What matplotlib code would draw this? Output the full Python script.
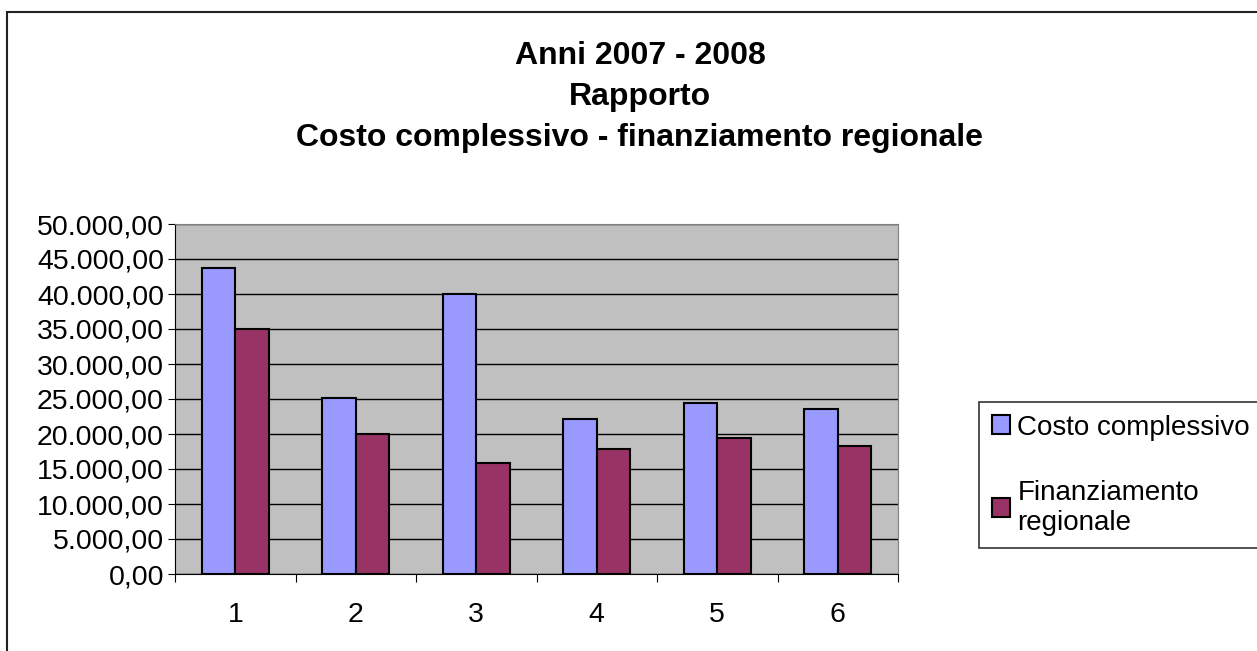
import matplotlib.pyplot as plt
import numpy as np
from matplotlib.ticker import FuncFormatter, MultipleLocator
from matplotlib.patches import Rectangle

plt.rcParams['font.family'] = ['Liberation Sans', 'DejaVu Sans']

# data
categories = ['1', '2', '3', '4', '5', '6']
costo = [43700, 25200, 40000, 22200, 24400, 23600]
finanziamento = [35000, 20000, 15900, 17800, 19400, 18300]
title_lines = ['Anni 2007 - 2008', 'Rapporto', 'Costo complessivo - finanziamento regionale']

fig = plt.figure(figsize=(12.57, 6.51), dpi=100)
# outer chart border (cropped on right and bottom like the original)
fig.patches.append(Rectangle((7 / 1257, -0.01), 1.1, 1 - 12 / 651 + 0.01,
                             transform=fig.transFigure, fill=False,
                             edgecolor='#222222', linewidth=1.5))

ax = fig.add_axes([175 / 1257, 1 - 574 / 651, (898 - 175) / 1257, (574 - 224) / 651])
ax.set_facecolor('#c0c0c0')

x = np.arange(1, len(categories) + 1)
w = 0.28
ax.bar(x - w / 2, costo, w, color='#9999ff', edgecolor='black', linewidth=1.5,
       label='Costo complessivo', zorder=3)
ax.bar(x + w / 2, finanziamento, w, color='#993366', edgecolor='black', linewidth=1.5,
       label='Finanziamento\nregionale', zorder=3)

ax.set_xlim(0.5, 6.5)
ax.set_ylim(0, 50000)
ax.yaxis.set_major_locator(MultipleLocator(5000))
ax.yaxis.set_major_formatter(FuncFormatter(
    lambda v, p: f'{v:,.2f}'.replace(',', 'X').replace('.', ',').replace('X', '.')))
ax.grid(axis='y', color='black', linewidth=1, zorder=1)

ax.set_xticks(np.arange(0.5, 6.6, 1))
ax.set_xticklabels([])
ax.set_xticks(x, minor=True)
ax.set_xticklabels(categories, minor=True)
ax.tick_params(axis='x', which='minor', length=0, pad=20, labelsize=20.5)
ax.tick_params(axis='x', which='major', length=6, direction='out', color='black')
ax.tick_params(axis='y', length=5, direction='out', labelsize=20.5, pad=3)

for s in ['top', 'right']:
    ax.spines[s].set_color('#808080')
ax.spines['left'].set_color('black')
ax.spines['bottom'].set_color('black')

for i, t in enumerate(title_lines):
    fig.text(640 / 1257, 1 - (56 + i * 41) / 651, t, ha='center', va='center',
             fontsize=23, fontweight='bold')

leg = fig.legend(loc='lower left', bbox_to_anchor=(979 / 1257, 1 - 548 / 651),
                 fontsize=20, frameon=True, fancybox=False, edgecolor='black',
                 handlelength=0.68, handleheight=0.68, handletextpad=0.25,
                 labelspacing=1.4, borderpad=0.45, borderaxespad=0)
leg.get_frame().set_linewidth(1.2)

fig.savefig('out.png', dpi=100)
